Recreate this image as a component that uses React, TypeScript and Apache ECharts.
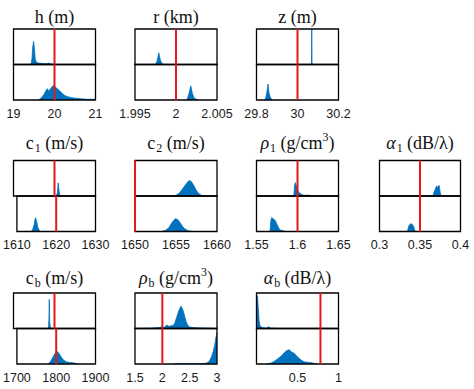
import React, { useEffect, useRef } from "react";
import * as echarts from "echarts";

// ---------- data (histogram outlines: [value, relative height]) ----------
const hTicks = [19, 20, 21];
const hTrue = 20;
const hTop = [[19.4,0],[19.43,0.02],[19.45,0.15],[19.47,0.5],[19.49,0.65],[19.51,0.45],[19.53,0.15],[19.56,0.06],[19.6,0.04],[19.7,0.03],[19.8,0.02],[19.85,0.04],[19.9,0.02],[19.95,0.01],[20.0,0]];
const hBottom = [[19.6,0],[19.65,0.03],[19.7,0.09],[19.75,0.17],[19.8,0.28],[19.83,0.32],[19.86,0.24],[19.9,0.31],[19.94,0.37],[19.97,0.41],[20.0,0.38],[20.05,0.34],[20.1,0.28],[20.15,0.23],[20.2,0.17],[20.25,0.13],[20.3,0.1],[20.4,0.07],[20.5,0.05],[20.6,0.04],[20.7,0.03],[20.8,0.02],[20.9,0.02],[21.0,0.02]];

const rTicks = [1.995, 2, 2.005];
const rTrue = 2;
const rTop = [[1.9975,0],[1.9977,0.1],[1.9979,0.33],[1.9981,0.12],[1.9983,0.02],[1.9985,0]];
const rBottom = [[2.0012,0],[2.0014,0.04],[2.0016,0.2],[2.0018,0.4],[2.002,0.18],[2.0022,0.06],[2.0024,0.03],[2.0026,0.01],[2.0027,0]];

const zTicks = [29.8, 30, 30.2];
const zTrue = 30;
const zTop = [[30.068,0],[30.0695,1],[30.071,0]];
const zBottom = [[29.838,0],[29.845,0.05],[29.85,0.2],[29.856,0.45],[29.861,0.2],[29.867,0.08],[29.873,0.03],[29.878,0]];

const c1Ticks = [1610, 1620, 1630];
const c1True = 1620;
const c1Top = [[1620.5,0],[1620.7,0.1],[1620.9,0.37],[1621.1,0.15],[1621.3,0.03],[1621.5,0]];
const c1Bottom = [[1613.6,0],[1614.0,0.05],[1614.4,0.2],[1614.7,0.39],[1615.0,0.3],[1615.3,0.12],[1615.6,0.05],[1616.0,0]];

const c2Ticks = [1650, 1655, 1660];
const c2True = 1650;
const c2Top = [[1654.5,0],[1655.0,0.02],[1655.4,0.08],[1655.8,0.2],[1656.2,0.33],[1656.6,0.44],[1656.9,0.4],[1657.2,0.28],[1657.5,0.15],[1657.8,0.06],[1658.1,0.02],[1658.5,0]];
const c2Bottom = [[1653.3,0],[1653.7,0.03],[1654.1,0.1],[1654.5,0.25],[1654.9,0.36],[1655.2,0.34],[1655.5,0.25],[1655.8,0.14],[1656.1,0.07],[1656.5,0.02],[1657,0]];

const rho1Ticks = [1.55, 1.6, 1.65];
const rho1True = 1.6;
const rho1Top = [[1.5955,0],[1.5965,0.3],[1.5975,0.38],[1.599,0.25],[1.601,0.12],[1.603,0.08],[1.605,0.04],[1.608,0.02],[1.612,0.02],[1.614,0.03],[1.616,0]];
const rho1Bottom = [[1.5665,0],[1.5675,0.3],[1.5685,0.39],[1.571,0.35],[1.573,0.3],[1.575,0.2],[1.577,0.1],[1.579,0.04],[1.582,0.03],[1.585,0]];

const a1Ticks = [0.3, 0.35, 0.4];
const a1True = 0.35;
const a1Top = [[0.366,0],[0.3675,0.12],[0.369,0.2],[0.3705,0.28],[0.372,0.25],[0.3735,0.3],[0.375,0.1],[0.376,0]];
const a1Bottom = [[0.3345,0],[0.336,0.15],[0.3375,0.2],[0.339,0.22],[0.3405,0.2],[0.342,0.15],[0.344,0]];

const cbTicks = [1700, 1800, 1900];
const cbTrue = 1800;
const cbTop = [[1785.5,0],[1786.5,0.3],[1787.3,0.82],[1788.2,0.2],[1789.5,0.05],[1791,0.02],[1793,0]];
const cbBottom = [[1780,0],[1784,0.05],[1788,0.12],[1792,0.2],[1796,0.28],[1800,0.33],[1803,0.35],[1806,0.31],[1810,0.25],[1815,0.16],[1820,0.1],[1826,0.06],[1835,0.04],[1845,0.03],[1853,0.01],[1856,0]];

const rhobTicks = [1.5, 2, 2.5, 3];
const rhobTrue = 2;
const rhobTop = [[1.5,0],[1.8,0.01],[1.95,0.03],[2.0,0.05],[2.04,0.03],[2.08,0.1],[2.12,0.06],[2.18,0.08],[2.22,0.12],[2.26,0.3],[2.3,0.5],[2.34,0.63],[2.37,0.55],[2.4,0.4],[2.43,0.22],[2.46,0.1],[2.5,0.04],[2.6,0.02],[2.8,0.01],[3.0,0]];
const rhobBottom = [[2.2,0],[2.3,0.01],[2.5,0.01],[2.7,0.01],[2.8,0.02],[2.85,0.06],[2.9,0.2],[2.93,0.35],[2.96,0.55],[2.98,0.75],[3.0,0.88]];

const abTicks = [0.5, 1];
const abTrue = 0.78;
const abTop = [[0,0.94],[0.012,0.92],[0.022,0.55],[0.032,0.22],[0.042,0.09],[0.055,0.04],[0.08,0.02],[0.12,0.01],[0.15,0.05],[0.17,0.01],[0.25,0]];
const abBottom = [[0.12,0],[0.18,0.03],[0.22,0.08],[0.26,0.15],[0.3,0.22],[0.34,0.32],[0.37,0.38],[0.4,0.4],[0.43,0.33],[0.46,0.3],[0.5,0.2],[0.54,0.12],[0.58,0.06],[0.62,0.05],[0.66,0.04],[0.7,0.02],[0.74,0]];

const panels = [
  { title: "h (m)", min: 19, max: 21, ticks: hTicks, truth: hTrue, top: hTop, bottom: hBottom, col: 0, row: 0 },
  { title: "r (km)", min: 1.995, max: 2.005, ticks: rTicks, truth: rTrue, top: rTop, bottom: rBottom, col: 1, row: 0 },
  { title: "z (m)", min: 29.8, max: 30.2, ticks: zTicks, truth: zTrue, top: zTop, bottom: zBottom, col: 2, row: 0 },
  { title: "c{sub|1} (m/s)", min: 1610, max: 1630, ticks: c1Ticks, truth: c1True, top: c1Top, bottom: c1Bottom, col: 0, row: 1 },
  { title: "c{sub|2} (m/s)", min: 1650, max: 1660, ticks: c2Ticks, truth: c2True, top: c2Top, bottom: c2Bottom, col: 1, row: 1 },
  { title: "{it|ρ}{sub|1} (g/cm{sup|3})", min: 1.55, max: 1.65, ticks: rho1Ticks, truth: rho1True, top: rho1Top, bottom: rho1Bottom, col: 2, row: 1 },
  { title: "{it|α}{sub|1} (dB/λ)", min: 0.3, max: 0.4, ticks: a1Ticks, truth: a1True, top: a1Top, bottom: a1Bottom, col: 3, row: 1 },
  { title: "c{sub|b} (m/s)", min: 1700, max: 1900, ticks: cbTicks, truth: cbTrue, top: cbTop, bottom: cbBottom, col: 0, row: 2 },
  { title: "{it|ρ}{sub|b} (g/cm{sup|3})", min: 1.5, max: 3, ticks: rhobTicks, truth: rhobTrue, top: rhobTop, bottom: rhobBottom, col: 1, row: 2 },
  { title: "{it|α}{sub|b} (dB/λ)", min: 0, max: 1, ticks: abTicks, truth: abTrue, top: abTop, bottom: abBottom, col: 2, row: 2 },
];

// ---------- layout ----------
const COL_LEFT = [13.5, 135, 256.5, 379.5];
const COL_W = [82, 82, 82, 81];
const ROW_TOP = [29, 160.5, 293];
const HALF_H = 35.5;
const TITLE_Y = [17, 143, 278];
const BLUE = "#0072BD";
const RED = "#E3191C";
const SERIF = "Liberation Serif";
const SANS = "Liberation Sans";

export default function App() {
  const ref = useRef<HTMLDivElement>(null);
  useEffect(() => {
    if (!ref.current) return;
    const chart = echarts.init(ref.current, null, { renderer: "svg" });
    const grids: any[] = [];
    const xAxes: any[] = [];
    const yAxes: any[] = [];
    const series: any[] = [];
    const graphics: any[] = [];
    panels.forEach((p) => {
      [p.top, p.bottom].forEach((data, half) => {
        const gi = grids.length;
        grids.push({
          show: true,
          left: COL_LEFT[p.col],
          top: ROW_TOP[p.row] + half * HALF_H,
          width: COL_W[p.col],
          height: HALF_H,
          borderColor: "#000",
          borderWidth: 1.3,
          backgroundColor: "transparent",
          z: 10,
        });
        xAxes.push({
          type: "value",
          gridIndex: gi,
          min: p.min,
          max: p.max,
          axisLine: { show: false },
          axisTick: { show: false },
          splitLine: { show: false },
          axisLabel:
            half === 1
              ? {
                  show: true,
                  customValues: p.ticks,
                  formatter: (v: number) => String(v),
                  fontFamily: SANS,
                  fontSize: 12.5,
                  color: "#1a1a1a",
                  margin: 7,
                }
              : { show: false },
        });
        yAxes.push({ type: "value", gridIndex: gi, min: 0, max: 1, show: false });
        series.push({
          type: "line",
          xAxisIndex: gi,
          yAxisIndex: gi,
          data,
          symbol: "none",
          showSymbol: false,
          silent: true,
          lineStyle: { color: BLUE, width: 0.8 },
          areaStyle: { color: BLUE, opacity: 1 },
          z: 2,
        });
        series.push({
          type: "line",
          xAxisIndex: gi,
          yAxisIndex: gi,
          data: [[p.truth, 0], [p.truth, 1]],
          symbol: "none",
          showSymbol: false,
          silent: true,
          clip: false,
          lineStyle: { color: RED, width: 2 },
          z: 20,
        });
      });
      graphics.push({
        type: "text",
        x: COL_LEFT[p.col] + COL_W[p.col] / 2,
        y: TITLE_Y[p.row],
        silent: true,
        style: {
          text: p.title,
          fontFamily: SERIF,
          fontSize: 18,
          fill: "#111",
          align: "center",
          verticalAlign: "middle",
          rich: {
            it: { fontFamily: SERIF, fontSize: 18, fontStyle: "italic", fill: "#111" },
            sub: { fontFamily: SERIF, fontSize: 12, fill: "#111", padding: [10, 0, 0, 1] },
            sup: { fontFamily: SERIF, fontSize: 12, fill: "#111", padding: [0, 0, 12, 0] },
          },
        },
      });
    });
    chart.setOption({
      animation: false,
      backgroundColor: "#fff",
      grid: grids,
      xAxis: xAxes,
      yAxis: yAxes,
      series,
      graphic: graphics,
    });
    return () => chart.dispose();
  }, []);
  return (
    <div
      ref={ref}
      style={{ position: "fixed", left: 0, top: 0, width: 474, height: 389 }}
    />
  );
}
